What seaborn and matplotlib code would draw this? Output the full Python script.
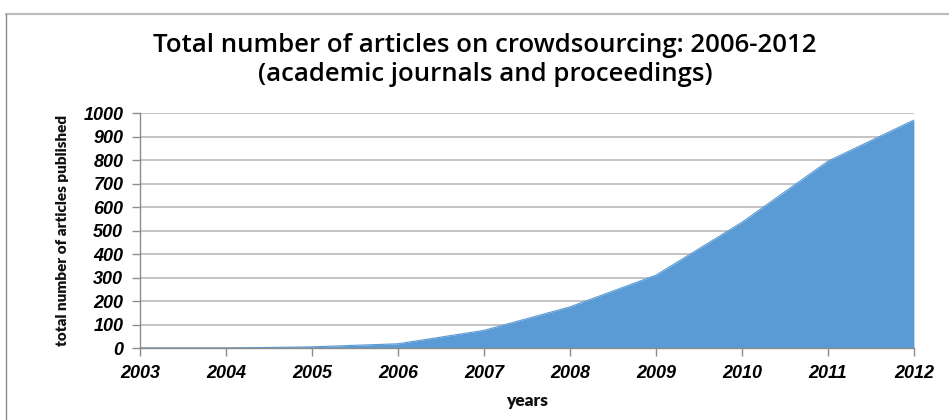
import matplotlib
matplotlib.use("Agg")
import matplotlib.pyplot as plt
from matplotlib.lines import Line2D
import seaborn as sns
import pandas as pd

years = [2003, 2004, 2005, 2006, 2007, 2008, 2009, 2010, 2011, 2012]
articles = [0, 0, 5, 18, 75, 175, 310, 535, 795, 970]
y_ticks = list(range(0, 1001, 100))

df = pd.DataFrame({"year": years, "articles": articles})

sns.set_theme(style="white")
plt.rcParams["font.family"] = ["Liberation Sans", "DejaVu Sans"]

fig = plt.figure(figsize=(9.49, 4.20), dpi=100)
ax = fig.add_axes([0.1475, 0.1714, 0.8155, 0.5595])

area_color = "#5B9BD5"
sns.lineplot(data=df, x="year", y="articles", ax=ax, color=area_color, linewidth=0.8)
ax.fill_between(df["year"], df["articles"], 0, color=area_color, linewidth=0, zorder=2)

ax.set_xlim(2003, 2012)
ax.set_ylim(0, 1000)
ax.set_yticks(y_ticks)
ax.set_xticks(years)
ax.yaxis.grid(True, color="#c4c4c4", linewidth=1.4, zorder=0)
ax.set_axisbelow(True)

for side in ["top", "right"]:
    ax.spines[side].set_visible(False)
for side in ["left", "bottom"]:
    ax.spines[side].set_color("#8c8c8c")
    ax.spines[side].set_linewidth(1.0)

ax.tick_params(axis="both", which="both", direction="out", length=6, width=1.0,
               color="#8c8c8c", left=True, bottom=True, pad=6)
for lab in ax.get_xticklabels() + ax.get_yticklabels():
    lab.set_fontweight("bold")
    lab.set_fontstyle("italic")
    lab.set_fontsize(13)
    lab.set_color("#000000")

ax.set_xlabel("years", fontsize=12.5, fontweight="heavy", family=["Lato", "DejaVu Sans"],
              labelpad=8, color="#111111")
ax.set_ylabel("total number of articles published", fontsize=11, fontweight="heavy",
              family=["Lato", "DejaVu Sans"], labelpad=10, color="#111111")

fig.text(0.511, 0.857, "Total number of articles on crowdsourcing: 2006-2012\n(academic journals and proceedings)",
         ha="center", va="center", fontsize=18.5, fontweight="semibold",
         family=["Open Sans", "DejaVu Sans"], linespacing=1.2, color="#000000")

# outer chart frame
fig.add_artist(Line2D([6 / 949, 1.0], [1 - 14 / 420, 1 - 14 / 420], transform=fig.transFigure,
                      color="#bdbdbd", linewidth=1.6))
fig.add_artist(Line2D([6 / 949, 6 / 949], [0.0, 1 - 14 / 420], transform=fig.transFigure,
                      color="#8c8c8c", linewidth=1.0))

fig.savefig("out.png", dpi=100, facecolor="white")
